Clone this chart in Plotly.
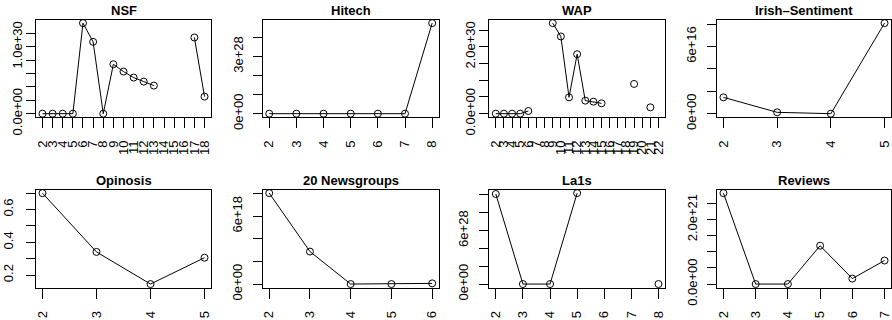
import plotly.graph_objects as go

# ---------------- data ----------------
titles = ["NSF", "Hitech", "WAP", "Irish–Sentiment",
          "Opinosis", "20 Newsgroups", "La1s", "Reviews"]

nsf_x = list(range(2, 19))
nsf_y = [0, 0, 0, 0, 1.355e30, 1.075e30, 0, 0.74e30, 0.63e30, 0.54e30,
         0.48e30, 0.42e30, None, None, None, 1.14e30, 0.255e30]

hitech_x = list(range(2, 9))
hitech_y = [0, 0, 0, 0, 0, 0, 4.75e28]

wap_x = list(range(2, 23))
wap_y = [0, 0, 0, 0, 0.08e30, None, None, 2.71e30, 2.31e30, 0.49e30,
         1.78e30, 0.39e30, 0.36e30, 0.31e30, None, None, None, 0.89e30,
         None, 0.19e30, None]

irish_x = [2, 3, 4, 5]
irish_y = [1.46e16, 0.12e16, 0.0, 8.09e16]

opinosis_x = [2, 3, 4, 5]
opinosis_y = [0.70, 0.341, 0.145, 0.306]

news_x = [2, 3, 4, 5, 6]
news_y = [8.03e18, 2.87e18, 0, 0, 0.06e18]

la1s_x = list(range(2, 9))
la1s_y = [10.1e28, 0, 0, 10.2e28, None, None, 0]

reviews_x = [2, 3, 4, 5, 6, 7]
reviews_y = [2.82e21, 0, 0, 1.19e21, 0.17e21, 0.73e21]

# y tick values and labels (blank = unlabeled tick)
nsf_yt = [0, 0.2e30, 0.4e30, 0.6e30, 0.8e30, 1.0e30, 1.2e30]
nsf_yl = ["0.0e+00", "", "", "", "", "1.0e+30", ""]
hitech_yt = [0, 1e28, 2e28, 3e28, 4e28]
hitech_yl = ["0e+00", "", "", "3e+28", ""]
wap_yt = [0, 0.5e30, 1.0e30, 1.5e30, 2.0e30, 2.5e30]
wap_yl = ["0.0e+00", "", "", "", "2.0e+30", ""]
irish_yt = [0, 2e16, 4e16, 6e16, 8e16]
irish_yl = ["0e+00", "", "", "6e+16", ""]
opinosis_yt = [0.2, 0.3, 0.4, 0.5, 0.6, 0.7]
opinosis_yl = ["0.2", "", "0.4", "", "0.6", ""]
news_yt = [0, 2e18, 4e18, 6e18, 8e18]
news_yl = ["0e+00", "", "", "6e+18", ""]
la1s_yt = [0, 2e28, 4e28, 6e28, 8e28, 10e28]
la1s_yl = ["0e+00", "", "", "6e+28", "", ""]
reviews_yt = [0, 0.5e21, 1.0e21, 1.5e21, 2.0e21, 2.5e21]
reviews_yl = ["0.0e+00", "", "", "", "2.0e+21", ""]

panels = [
    (nsf_x, nsf_y, nsf_yt, nsf_yl),
    (hitech_x, hitech_y, hitech_yt, hitech_yl),
    (wap_x, wap_y, wap_yt, wap_yl),
    (irish_x, irish_y, irish_yt, irish_yl),
    (opinosis_x, opinosis_y, opinosis_yt, opinosis_yl),
    (news_x, news_y, news_yt, news_yl),
    (la1s_x, la1s_y, la1s_yt, la1s_yl),
    (reviews_x, reviews_y, reviews_yt, reviews_yl),
]

# ---------------- layout geometry (pixels) ----------------
W, H = 892, 320
col_l = [36, 262.7, 489.3, 717]
col_r = [211, 438.7, 665, 891]
row_t = [19.5, 189.5]
row_b = [117.3, 287.7]
y_standoff = [-1, 5, -1, 6, 8, 6, 6, 5]

FONT = "Liberation Sans, Arial, Helvetica, sans-serif"

fig = go.Figure()
layout = dict(
    width=W, height=H, autosize=False,
    margin=dict(l=0, r=0, t=0, b=0, pad=0, autoexpand=False),
    paper_bgcolor="white", plot_bgcolor="white",
    showlegend=False,
    font=dict(family=FONT, size=13, color="black"),
    annotations=[],
)


def pad_range(vals):
    v = [a for a in vals if a is not None]
    lo, hi = min(v), max(v)
    d = hi - lo
    return [lo - 0.04 * d, hi + 0.04 * d]


for i, (xs, ys, yt, yl) in enumerate(panels):
    r, c = divmod(i, 4)
    k = i + 1
    xa = "x" if k == 1 else f"x{k}"
    ya = "y" if k == 1 else f"y{k}"
    fig.add_trace(go.Scatter(
        x=xs, y=ys, xaxis=xa, yaxis=ya,
        mode="lines+markers", connectgaps=False,
        line=dict(color="black", width=1),
        marker=dict(symbol="circle-open", size=7, color="black",
                    line=dict(width=1, color="black")),
        cliponaxis=False,
    ))
    common = dict(
        showgrid=False, zeroline=False, showline=True, mirror=True,
        linecolor="black", linewidth=1, automargin=False,
        ticks="outside", tickwidth=1, tickcolor="black",
        tickangle=-90, tickfont=dict(family=FONT, size=13, color="black"),
        tickmode="array",
    )
    layout[f"xaxis{'' if k == 1 else k}"] = dict(
        common,
        domain=[col_l[c] / W, col_r[c] / W],
        anchor=ya,
        range=pad_range(xs),
        tickvals=xs, ticktext=[str(v) for v in xs],
        ticklen=10, ticklabelstandoff=7,
    )
    layout[f"yaxis{'' if k == 1 else k}"] = dict(
        common,
        domain=[1 - row_b[r] / H, 1 - row_t[r] / H],
        anchor=xa,
        range=pad_range(ys),
        tickvals=yt, ticktext=yl,
        ticklen=9, ticklabelstandoff=y_standoff[i],
    )
    layout["annotations"].append(dict(
        text=f"<b>{titles[i]}</b>", xref="paper", yref="paper",
        x=(col_l[c] + col_r[c]) / 2 / W,
        y=1 - (row_t[r] - 9) / H,
        xanchor="center", yanchor="middle", showarrow=False,
        font=dict(family=FONT, size=13, color="black"),
    ))

fig.update_layout(**layout)
fig.write_html(
    "out.html",
    config={"displayModeBar": False},
    post_script="document.body.style.margin='0px';document.body.style.overflow='hidden';",
)
